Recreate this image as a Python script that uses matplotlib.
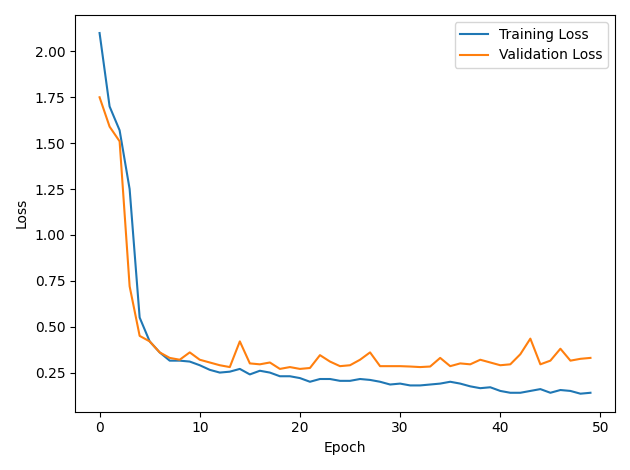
import matplotlib
matplotlib.use("Agg")
import matplotlib.pyplot as plt

train_loss = [2.10, 1.70, 1.57, 1.25, 0.55, 0.42, 0.36, 0.315, 0.315, 0.31,
              0.29, 0.265, 0.25, 0.255, 0.27, 0.24, 0.26, 0.25, 0.23, 0.23,
              0.22, 0.20, 0.215, 0.215, 0.205, 0.205, 0.215, 0.21, 0.20, 0.185,
              0.19, 0.18, 0.18, 0.185, 0.19, 0.20, 0.19, 0.175, 0.165, 0.17,
              0.15, 0.14, 0.14, 0.15, 0.16, 0.14, 0.155, 0.15, 0.135, 0.14]
val_loss = [1.75, 1.59, 1.51, 0.72, 0.45, 0.42, 0.36, 0.33, 0.32, 0.36,
            0.32, 0.305, 0.29, 0.28, 0.42, 0.30, 0.295, 0.305, 0.27, 0.28,
            0.27, 0.275, 0.345, 0.31, 0.285, 0.29, 0.32, 0.36, 0.285, 0.285,
            0.285, 0.283, 0.28, 0.283, 0.33, 0.285, 0.30, 0.295, 0.32, 0.305,
            0.29, 0.295, 0.35, 0.435, 0.295, 0.315, 0.38, 0.315, 0.325, 0.33]
epochs = list(range(len(train_loss)))

plt.figure(figsize=(6.3, 4.7), dpi=100)
plt.plot(epochs, train_loss, label="Training Loss")
plt.plot(epochs, val_loss, label="Validation Loss")
plt.xlabel("Epoch")
plt.ylabel("Loss")
plt.legend()
plt.tight_layout()
plt.savefig("out.png")
